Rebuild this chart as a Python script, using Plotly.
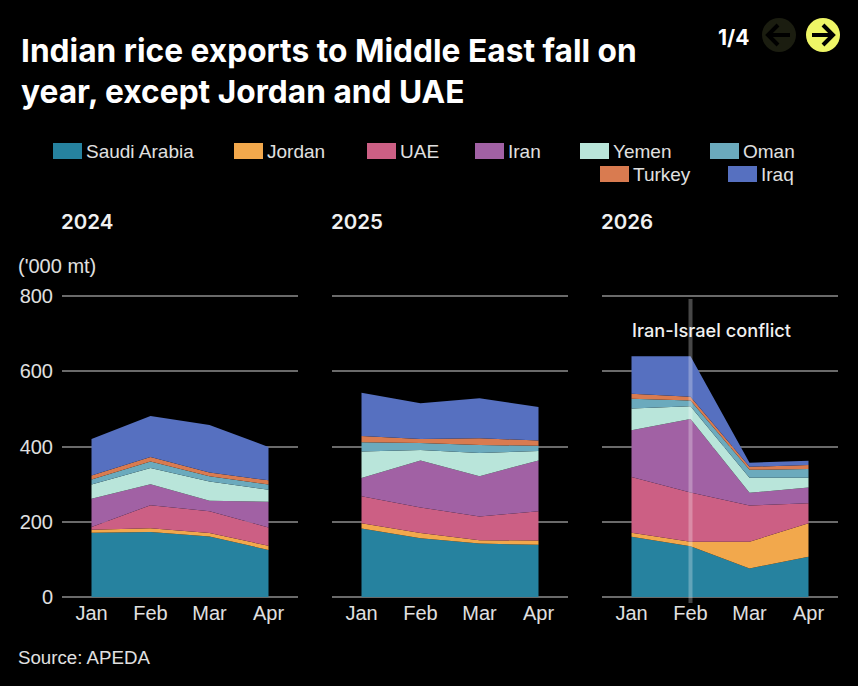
import plotly.graph_objects as go

WIDTH = 858
HEIGHT = 686

months = ["Jan", "Feb", "Mar", "Apr"]
years = ["2024", "2025", "2026"]
series_names = ["Saudi Arabia", "Jordan", "UAE", "Iran", "Yemen", "Oman", "Turkey", "Iraq"]
series_colors = ["#26829f", "#f2a84c", "#cc5f84", "#a161a4", "#b9e5da", "#6baabd", "#d97b50", "#5670c0"]
y_ticks = [0, 200, 400, 600, 800]

# '000 mt, same order as series_names
values_2024 = [
    [171, 173, 161, 125],
    [8, 10, 9, 11],
    [7, 61, 58, 49],
    [75, 56, 28, 68],
    [38, 43, 51, 32],
    [13, 17, 14, 14],
    [11, 12, 10, 11],
    [97, 109, 126, 89],
]
values_2025 = [
    [182, 156, 142, 139],
    [14, 14, 9, 11],
    [72, 68, 63, 78],
    [48, 125, 107, 135],
    [71, 28, 62, 25],
    [24, 18, 21, 14],
    [17, 11, 18, 14],
    [115, 95, 106, 89],
]
values_2026 = [
    [160, 135, 76, 107],
    [11, 12, 71, 89],
    [148, 131, 96, 53],
    [124, 195, 34, 42],
    [58, 34, 40, 26],
    [26, 15, 21, 23],
    [13, 10, 8, 11],
    [100, 108, 11, 11],
]
values_by_year = [values_2024, values_2025, values_2026]

TEXT = "#e0e0e0"
GRID = "#6a6a6a"
HEAD_FONT = "Inter"
BODY_FONT = "Liberation Sans"

# pixel spans of the three panels; y has 2px of slack so the end gridlines are kept
panel_x = [(62, 298), (332, 568), (602, 838)]
plot_top, plot_bottom = 294, 599
y_range = [-5.3, 805.3]


def px(x):
    return x / WIDTH


def py(y):
    return 1 - y / HEIGHT


def label(x, y, text, size=19, family=BODY_FONT, color=TEXT, weight=400):
    return dict(
        x=px(x - 2), y=py(y), xref="paper", yref="paper", text=text, showarrow=False,
        xanchor="left", yanchor="middle",
        font=dict(family=family, size=size, color=color, weight=weight),
    )


fig = go.Figure()

for i, (year, values) in enumerate(zip(years, values_by_year)):
    suffix = "" if i == 0 else str(i + 1)
    for name, color, row in zip(series_names, series_colors, values):
        fig.add_trace(
            go.Scatter(
                x=months,
                y=row,
                name=name,
                stackgroup=year,
                mode="lines",
                line=dict(width=0, color=color),
                fillcolor=color,
                xaxis="x" + suffix,
                yaxis="y" + suffix,
                showlegend=False,
            )
        )
    fig.update_layout(
        {
            "xaxis" + suffix: dict(
                domain=[px(panel_x[i][0]), px(panel_x[i][1])],
                type="category",
                categoryorder="array",
                categoryarray=months,
                range=[-0.5, 3.5],
                automargin=False,
                showgrid=False,
                zeroline=False,
                showline=False,
                ticks="",
                ticklabelstandoff=0,
                tickfont=dict(family=BODY_FONT, size=20, color=TEXT),
                anchor="y" + suffix,
            ),
            "yaxis" + suffix: dict(
                domain=[py(plot_bottom), py(plot_top)],
                range=y_range,
                tickvals=y_ticks,
                automargin=False,
                showticklabels=i == 0,
                showgrid=True,
                gridcolor=GRID,
                gridwidth=2,
                zeroline=False,
                showline=False,
                ticks="",
                ticklabelstandoff=8,
                tickfont=dict(family=BODY_FONT, size=20, color=TEXT),
                anchor="x" + suffix,
            ),
        }
    )

annotations = [
    label(18, 266, "('000 mt)", size=20),
    label(18, 657, "Source: APEDA", size=18.7),
    label(632, 330, "Iran-Israel conflict", size=18.2, family=HEAD_FONT, color="#f0f0f0", weight=500),
    label(718, 38, "1/4", size=21, family=HEAD_FONT, color="#ffffff", weight=700),
]
for (left, _), year in zip(panel_x, years):
    annotations.append(label(left - 1, 221, year, size=20.5, family=HEAD_FONT, color="#f0f0f0", weight=600))

# legend is two right-hand wrapped rows in the original, placed by hand
legend_pos = [(53, 151), (234, 151), (367, 151), (475, 151), (580, 151), (710, 151), (600, 174), (728, 174)]
shapes = []
for (x, y), name, color in zip(legend_pos, series_names, series_colors):
    shapes.append(
        dict(type="rect", xref="paper", yref="paper", x0=px(x), x1=px(x + 29), y0=py(y - 8), y1=py(y + 8),
             fillcolor=color, line=dict(width=0))
    )
    annotations.append(label(x + 33, y, name))

# conflict marker on Feb 2026
shapes.append(
    dict(type="line", xref="x3", yref="paper", x0="Feb", x1="Feb", y0=py(299), y1=py(603), layer="above",
         line=dict(color="rgba(255,255,255,0.28)", width=4))
)


def arrow_path(tip, tail, head, cy=35):
    return (
        f"M {px(tail)} {py(cy)} L {px(tip)} {py(cy)} "
        f"M {px(head)} {py(cy - 10)} L {px(tip)} {py(cy)} L {px(head)} {py(cy + 10)}"
    )


# pager buttons
for cx, fill, tip, tail, head in [(779, "#1b1d10", 768, 790, 778), (823, "#eef566", 833, 812, 823)]:
    shapes.append(
        dict(type="circle", xref="paper", yref="paper", x0=px(cx - 17), x1=px(cx + 17), y0=py(18), y1=py(52),
             fillcolor=fill, line=dict(width=0))
    )
    shapes.append(
        dict(type="path", xref="paper", yref="paper", path=arrow_path(tip, tail, head),
             line=dict(color="#000000", width=4))
    )

fig.update_layout(
    width=WIDTH,
    height=HEIGHT,
    autosize=False,
    margin=dict(l=0, r=0, t=0, b=0),
    paper_bgcolor="#000000",
    plot_bgcolor="#000000",
    showlegend=False,
    hovermode=False,
    title=dict(
        text="Indian rice exports to Middle East fall on<br>year, except Jordan and UAE",
        x=px(21),
        xanchor="left",
        y=py(61.5),
        yanchor="middle",
        font=dict(family=HEAD_FONT, size=31.7, color="#ffffff", weight=700),
    ),
    annotations=annotations,
    shapes=shapes,
)

fig.write_html(
    "out.html",
    config=dict(displayModeBar=False),
    post_script="document.body.style.margin='0';document.body.style.background='#000';",
)
